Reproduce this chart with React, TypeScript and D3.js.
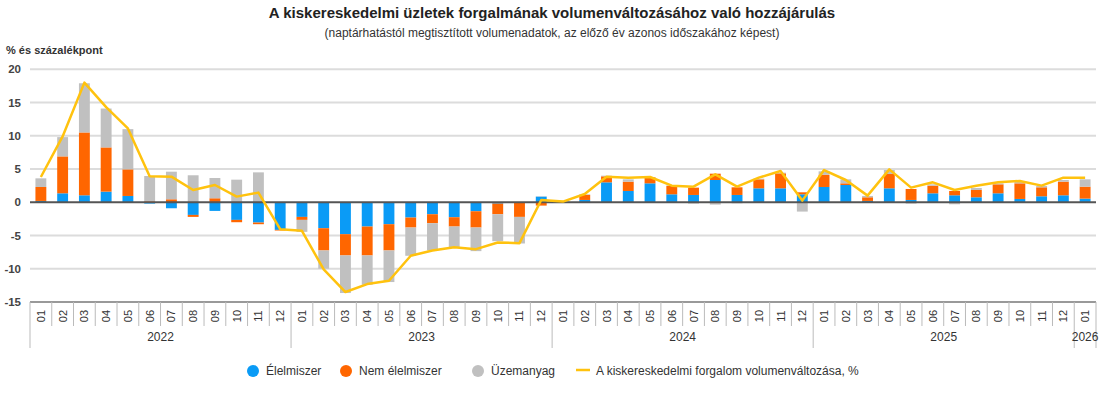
import React, { useEffect, useRef } from "react";
import * as d3 from "d3";

// hónapok 2022-01 .. 2026-01
const years = ["2022", "2023", "2024", "2025", "2026"];
const monthsPerYear = [12, 12, 12, 12, 1];

// Élelmiszer
const food = [
  0.2, 1.35, 1.05, 1.6, 0.95, -0.2, -0.9, -1.9, -1.3, -2.65, -3.05, -4.15,
  -2.2, -3.9, -4.8, -3.65, -3.3, -2.3, -1.8, -2.25, -1.35, -0.2, -0.05, 0.85,
  0.05, 0.35, 3.0, 1.7, 2.85, 1.2, 1.1, 3.35, 1.1, 2.1, 2.1, 1.2,
  2.3, 2.6, 0.2, 2.1, 0.35, 1.35, 1.05, 0.75, 1.35, 0.5, 0.9, 1.05,
  0.55,
];
// Nem élelmiszer
const nonFood = [
  2.1, 5.55, 9.45, 6.65, 4.0, 0.15, 0.45, -0.3, 0.6, -0.35, -0.25, -0.1,
  -0.45, -3.35, -3.2, -4.35, -3.95, -1.5, -1.35, -1.4, -2.45, -1.6, -2.15, -0.5,
  0.0, 0.75, 0.9, 1.4, 0.9, 1.25, 1.1, 0.95, 1.15, 1.35, 2.25, 0.3,
  1.85, 0.25, 0.55, 2.15, 1.65, 1.15, 0.65, 1.1, 1.35, 2.35, 1.35, 2.05,
  1.8,
];
// Üzemanyag
const fuel = [
  1.3, 2.9, 7.4, 5.85, 6.05, 3.8, 4.15, 4.06, 3.05, 3.4, 4.5, 0.0,
  -1.8, -2.75, -5.65, -4.4, -4.75, -4.25, -4.1, -3.15, -3.55, -4.05, -4.0, 0.05,
  0.0, 0.1, 0.1, 0.35, 0.05, 0.1, -0.2, -0.35, -0.15, 0.1, 0.1, -1.4,
  0.5, 0.6, 0.2, 0.6, -0.2, 0.2, -0.3, 0.3, 0.15, 0.25, 0.2, 0.25,
  1.1,
];
// A kiskereskedelmi forgalom volumenváltozása, %
const total = [
  3.8, 9.9, 18.0, 14.3, 11.1, 3.9, 3.85, 1.85, 2.6, 0.85, 1.45, -4.05,
  -4.3, -10.1, -13.5, -12.3, -11.8, -8.05, -7.25, -6.75, -7.05, -6.05, -6.15, 0.35,
  0.1, 1.25, 3.85, 3.7, 3.8, 2.5, 2.35, 4.2, 2.35, 3.7, 4.7, 0.25,
  4.85, 3.35, 1.0, 4.95, 2.2, 3.0, 1.85, 2.5, 3.0, 3.2, 2.5, 3.7,
  3.7,
];
const yTicks = [20, 15, 10, 5, 0, -5, -10, -15];

const seriesKeys = ["food", "nonFood", "fuel"];
const seriesNames = ["Élelmiszer", "Nem élelmiszer", "Üzemanyag"];
const colors = ["#0a9bf6", "#ff6600", "#c0c0c0"];
const lineColor = "#ffc20e";

export default function App() {
  const ref = useRef<SVGSVGElement>(null);

  useEffect(() => {
    document.body.style.margin = "0";
    const svg = d3.select(ref.current);
    svg.selectAll("*").remove();
    const font = "'Liberation Sans', Arial, sans-serif";

    const cats: { key: string; month: string; year: string }[] = [];
    years.forEach((yr, yi) => {
      for (let m = 1; m <= monthsPerYear[yi]; m++) {
        const mm = String(m).padStart(2, "0");
        cats.push({ key: yr + "-" + mm, month: mm, year: yr });
      }
    });
    const rows = cats.map((c, i) => ({
      key: c.key,
      food: food[i],
      nonFood: nonFood[i],
      fuel: fuel[i],
    }));

    const left = 30,
      right = 1096;
    const x = d3
      .scaleBand()
      .domain(cats.map((c) => c.key))
      .range([left, right])
      .paddingInner(0.5)
      .paddingOuter(0.25);
    const y = d3.scaleLinear().domain([-15, 20]).range([302, 69.3]);
    const step = x.step();

    // titles
    svg
      .append("text")
      .attr("x", 552)
      .attr("y", 18)
      .attr("text-anchor", "middle")
      .style("font-family", font)
      .style("font-weight", "bold")
      .style("font-size", "15px")
      .style("fill", "#222")
      .text("A kiskereskedelmi üzletek forgalmának volumenváltozásához való hozzájárulás");
    svg
      .append("text")
      .attr("x", 552)
      .attr("y", 37)
      .attr("text-anchor", "middle")
      .style("font-family", font)
      .style("font-size", "12px")
      .style("fill", "#333")
      .text("(naptárhatástól megtisztított volumenadatok, az előző év azonos időszakához képest)");
    svg
      .append("text")
      .attr("x", 6)
      .attr("y", 54)
      .style("font-family", font)
      .style("font-weight", "bold")
      .style("font-size", "11px")
      .style("fill", "#333")
      .text("% és százalékpont");

    // grid
    const grid = svg.append("g");
    grid
      .selectAll("line")
      .data(yTicks.filter((t) => t !== 0 && t !== -15))
      .join("line")
      .attr("x1", left)
      .attr("x2", right)
      .attr("y1", (d) => y(d))
      .attr("y2", (d) => y(d))
      .attr("stroke", "#dcdcdc")
      .attr("stroke-width", 2);
    svg
      .append("g")
      .selectAll("text")
      .data(yTicks)
      .join("text")
      .attr("x", 21)
      .attr("y", (d) => y(d) + 4)
      .attr("text-anchor", "end")
      .style("font-family", font)
      .style("font-weight", "bold")
      .style("font-size", "11.5px")
      .style("fill", "#444")
      .text((d) => d);

    // bars
    const stacked = d3
      .stack<any>()
      .keys(seriesKeys)
      .offset(d3.stackOffsetDiverging)(rows);
    svg
      .append("g")
      .selectAll("g")
      .data(stacked)
      .join("g")
      .attr("fill", (_d, i) => colors[i])
      .selectAll("rect")
      .data((d) => d)
      .join("rect")
      .attr("x", (d: any) => x(d.data.key)!)
      .attr("width", x.bandwidth())
      .attr("y", (d) => y(Math.max(d[0], d[1])))
      .attr("height", (d) => Math.abs(y(d[0]) - y(d[1])));

    // zero line
    svg
      .append("line")
      .attr("x1", left)
      .attr("x2", right)
      .attr("y1", y(0))
      .attr("y2", y(0))
      .attr("stroke", "#555")
      .attr("stroke-width", 2);

    // total line
    const line = d3
      .line<number>()
      .x((_d, i) => x(cats[i].key)! + x.bandwidth() / 2)
      .y((d) => y(d));
    svg
      .append("path")
      .datum(total)
      .attr("d", line)
      .attr("fill", "none")
      .attr("stroke", lineColor)
      .attr("stroke-width", 2.5)
      .attr("stroke-linejoin", "round");

    // x axis
    const axis = svg.append("g");
    axis
      .append("line")
      .attr("x1", left)
      .attr("x2", right)
      .attr("y1", y(-15))
      .attr("y2", y(-15))
      .attr("stroke", "#999")
      .attr("stroke-width", 2);
    const bounds = d3.range(cats.length + 1);
    axis
      .selectAll("line.div")
      .data(bounds)
      .join("line")
      .attr("class", "div")
      .attr("x1", (i) => left + i * step)
      .attr("x2", (i) => left + i * step)
      .attr("y1", y(-15))
      .attr("y2", (i) =>
        i === 0 || i === cats.length || i % 12 === 0 ? 348 : 326
      )
      .attr("stroke", "#bbb")
      .attr("stroke-width", 1);
    axis
      .selectAll("text.month")
      .data(cats)
      .join("text")
      .attr("class", "month")
      .attr(
        "transform",
        (d) => `translate(${x(d.key)! + x.bandwidth() / 2 + 4},316) rotate(-90)`
      )
      .attr("text-anchor", "middle")
      .style("font-family", font)
      .style("font-size", "11px")
      .style("fill", "#333")
      .text((d) => d.month);
    let start = 0;
    years.forEach((yr, yi) => {
      const n = monthsPerYear[yi];
      axis
        .append("text")
        .attr("x", left + (start + n / 2) * step)
        .attr("y", 341)
        .attr("text-anchor", "middle")
        .style("font-family", font)
        .style("font-size", "12px")
        .style("fill", "#333")
        .text(yr);
      start += n;
    });

    // legend
    const legend = svg.append("g");
    const lx = [253, 346, 478];
    seriesNames.forEach((name, i) => {
      legend
        .append("circle")
        .attr("cx", lx[i])
        .attr("cy", 371)
        .attr("r", 6)
        .attr("fill", colors[i]);
      legend
        .append("text")
        .attr("x", lx[i] + 13)
        .attr("y", 375)
        .style("font-family", font)
        .style("font-size", "12px")
        .style("fill", "#333")
        .text(name);
    });
    legend
      .append("line")
      .attr("x1", 576)
      .attr("x2", 590)
      .attr("y1", 370)
      .attr("y2", 370)
      .attr("stroke", lineColor)
      .attr("stroke-width", 2.5);
    legend
      .append("text")
      .attr("x", 596)
      .attr("y", 375)
      .style("font-family", font)
      .style("font-size", "12px")
      .style("fill", "#333")
      .text("A kiskereskedelmi forgalom volumenváltozása, %");
  }, []);

  return <svg ref={ref} width={1104} height={397} style={{ display: "block" }}></svg>;
}
